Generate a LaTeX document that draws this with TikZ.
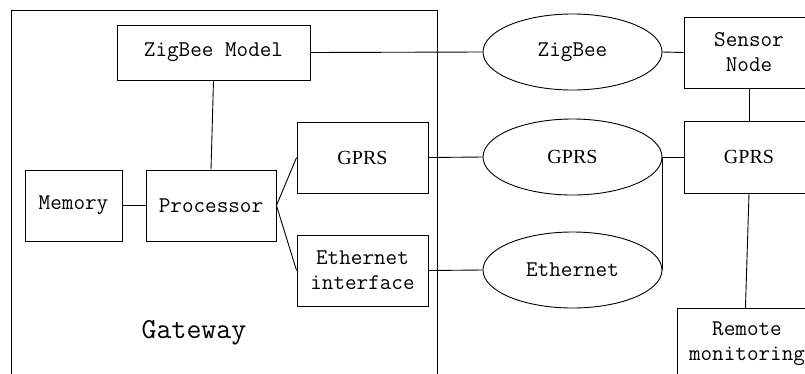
\documentclass[tikz,border=0pt]{standalone}
\usepackage{fontspec}
\newfontfamily\tnr{Liberation Serif}
\usetikzlibrary{shapes.geometric}
\newcommand{\monof}{\fontsize{22.5}{25}\selectfont\ttfamily}
\begin{document}
\begin{tikzpicture}[x=1pt,y=-1pt,
  line width=0.9pt,
  blk/.style={draw, rectangle, inner sep=0pt, align=center, font=\monof},
  ell/.style={draw, ellipse, inner sep=0pt, minimum width=179pt, minimum height=76pt, font=\monof},
  conn/.style={draw, line width=0.9pt}]
\path[use as bounding box] (0,0) rectangle (805,373);
\clip (0,0) rectangle (805,373);
% gateway frame
\coordinate (gwbl) at (11,385);
\coordinate (gwtl) at (11,10);
\coordinate (gwtr) at (437,10);
\coordinate (gwbr) at (437,385);
\draw (gwbl) -- (gwtl) -- (gwtr) -- (gwbr);
\node[font=\fontsize{29}{32}\selectfont\ttfamily] (gwlabel) at (194,333) {Gateway};
% gateway blocks
\node[blk, minimum width=193pt, minimum height=55pt] (zbm) at (213.5,52.5) {ZigBee Model};
\node[blk, minimum width=97pt, minimum height=71pt] (mem) at (73.5,205.5) {Memory};
\node[blk, minimum width=130pt, minimum height=71pt] (proc) at (211,205.5) {Processor};
\node[blk, minimum width=131pt, minimum height=71pt, font=\fontsize{20}{24}\selectfont\tnr] (ggprs) at (362.5,157.5) {GPRS};
\node[blk, minimum width=131pt, minimum height=71pt] (geth) at (362.5,270.5) {Ethernet\\interface};
% networks
\node[ell] (ezig) at (572.5,52) {ZigBee};
\node[ell, font=\fontsize{20}{24}\selectfont\tnr] (egprs) at (572.5,157) {GPRS};
\node[ell] (eeth) at (572.5,270) {Ethernet};
% right blocks
\node[blk, minimum width=130pt, minimum height=71pt] (sensor) at (749,52.5) {Sensor\\Node};
\node[blk, minimum width=130pt, minimum height=72pt, font=\fontsize{20}{24}\selectfont\tnr] (rgprs) at (749,157) {GPRS};
\node[blk, minimum width=140pt, minimum height=80pt, anchor=north west, text depth=0pt] (remote) at (677,308) {};
\node[font=\monof, align=center, anchor=north] (remotetxt) at (747,318) {Remote\\monitoring};
% connectors
\draw (zbm.east) -- (ezig.west);
\draw (zbm.south) -- (proc.north);
\draw (mem.east) -- (proc.west);
\draw (proc.east) -- (ggprs.west);
\draw (proc.east) -- (geth.west);
\draw (ggprs.east) -- (egprs.west);
\draw (geth.east) -- (eeth.west);
\draw (ezig.east) -- (sensor.west);
\draw (egprs.east) -- (rgprs.west);
\draw (egprs.east) -- (eeth.east);
\draw (sensor.south) -- (rgprs.north);
\draw (rgprs.south) -- ([xshift=-2pt]remote.north);
\end{tikzpicture}
\end{document}
